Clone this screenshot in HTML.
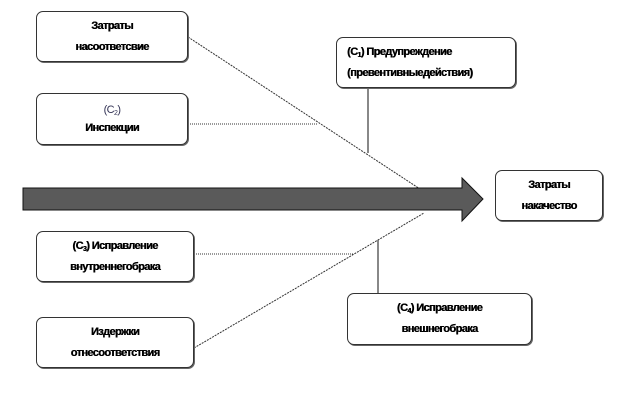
<!DOCTYPE html>
<html><head><meta charset="utf-8"><style>
body{margin:0;background:#fff;}
.b{position:absolute;border:1px solid #333;border-radius:7px;background:#fff;box-shadow:1px 1px 0 #666;font:bold 11px "Liberation Sans",sans-serif;letter-spacing:-0.6px;color:#000;text-shadow:0.4px 0 0 #000;text-align:center;line-height:21px;display:flex;align-items:center;justify-content:center;box-sizing:border-box}
.b>div{width:100%}
sub{font-size:7px;line-height:0;vertical-align:-2px}
</style></head><body>
<div style="position:relative;width:621px;height:407px;overflow:hidden">
<svg width="621" height="407" style="position:absolute;left:0;top:0">
<line x1="188" y1="37" x2="420" y2="189" stroke="#333" stroke-width="1" stroke-dasharray="2,1"/>
<line x1="188" y1="124" x2="318" y2="124" stroke="#333" stroke-width="1" stroke-dasharray="1,1"/>
<line x1="368" y1="87" x2="368" y2="153" stroke="#111" stroke-width="1"/>
<line x1="194" y1="348" x2="424" y2="213" stroke="#333" stroke-width="1" stroke-dasharray="2,1"/>
<line x1="194" y1="254" x2="354" y2="254" stroke="#333" stroke-width="1" stroke-dasharray="1,1"/>
<line x1="378" y1="240" x2="378" y2="293" stroke="#111" stroke-width="1"/>
<polygon points="23,188 462,188 462,178 483,199 462,221 462,210 23,210" fill="#5a5a5a" stroke="#111" stroke-width="1"/>
</svg>
<div class="b" style="left:36px;top:11px;width:152px;height:51px"><div>Затраты<br>насоответсвие</div></div>
<div class="b" style="left:36px;top:93px;width:152px;height:52px;line-height:18px"><div><span style="font-weight:normal;color:#335;text-shadow:none">(C<sub>2</sub>)</span><br>Инспекции</div></div>
<div class="b" style="left:336px;top:37px;width:180px;height:51px;justify-content:flex-start;padding-left:10px"><div style="text-align:left">(C<sub>1</sub>) Предупреждение<br>(превентивныедействия)</div></div>
<div class="b" style="left:495px;top:170px;width:108px;height:51px"><div>Затраты<br>накачество</div></div>
<div class="b" style="left:36px;top:231px;width:158px;height:51px"><div>(C<sub>3</sub>) Исправление<br>внутреннегобрака</div></div>
<div class="b" style="left:36px;top:317px;width:158px;height:51px"><div>Издержки<br>отнесоответствия</div></div>
<div class="b" style="left:347px;top:293px;width:185px;height:52px"><div>(C<sub>4</sub>) Исправление<br>внешнегобрака</div></div>
</div>
</body></html>
